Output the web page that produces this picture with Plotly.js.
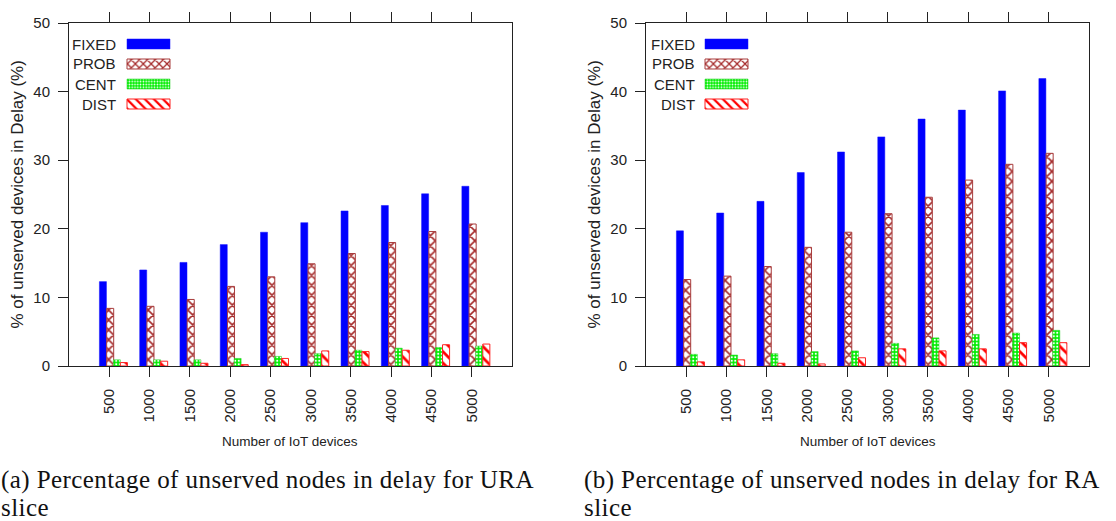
<!DOCTYPE html>
<html><head><meta charset="utf-8">
<script src="https://cdn.plot.ly/plotly-3.0.1.min.js"></script>
<style>
html,body{margin:0;padding:0;background:#fff;}
/* legend labels are drawn on the left of the samples (see annotations) */
text.legendtext, .infolayer g[class^="legend"] text{display:none;}
g.annotation[data-index="4"] text, g.annotation[data-index="5"] text,
g.annotation[data-index="6"] text, g.annotation[data-index="7"] text{letter-spacing:0.42px;}
</style>
</head><body>
<div id="chart" style="width:1116px;height:521px"></div>
<script>
// ---------- data ----------
const categories = ['500','1000','1500','2000','2500','3000','3500','4000','4500','5000'];
const seriesNames = ['FIXED','PROB','CENT','DIST'];

const fixedURA = [12.3, 14.0, 15.1, 17.7, 19.5, 20.9, 22.6, 23.4, 25.1, 26.2];
const probURA  = [8.4, 8.7, 9.7, 11.6, 13.0, 14.9, 16.4, 18.0, 19.6, 20.7];
const centURA  = [0.9, 0.9, 0.9, 1.1, 1.4, 1.8, 2.3, 2.6, 2.7, 2.9];
const distURA  = [0.5, 0.7, 0.4, 0.2, 1.1, 2.2, 2.1, 2.3, 3.1, 3.2];

const fixedRA = [19.7, 22.3, 24.0, 28.2, 31.2, 33.4, 36.0, 37.3, 40.1, 41.9];
const probRA  = [12.6, 13.1, 14.5, 17.3, 19.5, 22.2, 24.6, 27.1, 29.4, 31.0];
const centRA  = [1.7, 1.6, 1.8, 2.1, 2.2, 3.3, 4.1, 4.6, 4.8, 5.2];
const distRA  = [0.6, 0.9, 0.4, 0.3, 1.2, 2.5, 2.2, 2.5, 3.4, 3.4];

const yTickVals = [0, 10, 20, 30, 40, 50];
const xTitle = 'Number of IoT devices';
const yTitle = '% of unserved devices in Delay (%)';
const captionA = ['(a) Percentage of unserved nodes in delay for URA', 'slice'];
const captionB = ['(b) Percentage of unserved nodes in delay for RA', 'slice'];

// ---------- styling ----------
const W = 1116, H = 521;
const sans = 'Liberation Sans, Arial, Helvetica, sans-serif';
const serif = 'Liberation Serif, Times New Roman, serif';
const ink = '#222';
const barWidth = 0.175;
const barOffsets = [-0.245, -0.065, 0.1, 0.275];
const markerStyles = [
  {color:'#0000ff', line:{color:'#1010ff', width:0.5}},
  {color:'#ffffff', line:{color:'#a83c3c', width:1},
   pattern:{shape:'x', fgcolor:'#a52a2a', bgcolor:'#ffffff', size:7, solidity:0.4}},
  {color:'#00ee00', line:{color:'#22cc22', width:0.5},
   pattern:{shape:'.', fgcolor:'#ffffff', bgcolor:'#00ee00', size:3.5, solidity:0.3}},
  {color:'#ffffff', line:{color:'#ff2020', width:1},
   pattern:{shape:'\\', fgcolor:'#ff0000', bgcolor:'#ffffff', size:8, solidity:0.35}}
];

const panels = [
  {data:[fixedURA, probURA, centURA, distURA], xa:'x', ya:'y', legend:'legend'},
  {data:[fixedRA, probRA, centRA, distRA], xa:'x2', ya:'y2', legend:'legend2'}
];

const traces = [];
panels.forEach(p => {
  p.data.forEach((vals, s) => {
    traces.push({
      type:'bar', x:categories, y:vals, name:seriesNames[s],
      xaxis:p.xa, yaxis:p.ya, legend:p.legend,
      width:barWidth, offset:barOffsets[s],
      marker:markerStyles[s], hoverinfo:'skip'
    });
  });
});

// plot boxes in px
const boxL = {l:69, r:512}, boxR = {l:646, r:1089};
const plotTop = 23, plotBottom = 366;
const ydom = [1 - plotBottom/H, 1 - plotTop/H];

function xaxisDef(box, anchor){
  return {
    domain:[box.l/W, box.r/W], anchor:anchor, type:'category', range:[-1, 10],
    showline:true, linecolor:ink, linewidth:1, mirror:'ticks',
    ticks:'outside', ticklen:10, tickwidth:1, tickcolor:ink,
    tickangle:-90, ticklabelstandoff:6,
    tickfont:{family:sans, size:15, color:ink},
    showgrid:false, zeroline:false, fixedrange:true
  };
}
function yaxisDef(anchor){
  return {
    domain:ydom, anchor:anchor, range:[0, 50], tickvals:yTickVals,
    showline:true, linecolor:ink, linewidth:1, mirror:true,
    ticks:'outside', ticklen:10, tickwidth:1, tickcolor:ink,
    ticklabelstandoff:5,
    tickfont:{family:sans, size:15, color:ink},
    showgrid:false, zeroline:false, fixedrange:true
  };
}
function legendDef(xpx){
  return {x:xpx/W, y:1 - 33/H, xanchor:'left', yanchor:'top',
          bgcolor:'rgba(0,0,0,0)', borderwidth:0,
          font:{family:sans, size:15, color:ink}, tracegroupgap:0};
}

// legend layout: label on the left, long sample on the right
const legendSpecs = {
  legend:  {textRight:117, sampleL:127, sampleR:170, rows:[44, 64, 84, 104]},
  legend2: {textRight:696, sampleL:705, sampleR:748, rows:[44, 64, 84, 104]}
};

const midY = 1 - (plotTop + plotBottom) / 2 / H;
function capLine(text, xpx, cy){
  return {text:text, xref:'paper', yref:'paper', x:xpx/W, y:1 - cy/H, align:'left',
          showarrow:false, xanchor:'left', yanchor:'middle', borderpad:0,
          font:{family:serif, size:25, color:'#111'}};
}
const annotations = [
  {text:yTitle, xref:'paper', yref:'paper', x:17/W, y:midY, textangle:-90,
   showarrow:false, xanchor:'center', yanchor:'middle', font:{family:sans, size:17, color:ink}},
  {text:yTitle, xref:'paper', yref:'paper', x:(17+boxR.l-boxL.l)/W, y:midY, textangle:-90,
   showarrow:false, xanchor:'center', yanchor:'middle', font:{family:sans, size:17, color:ink}},
  {text:xTitle, xref:'paper', yref:'paper', x:(boxL.l+boxL.r)/2/W, y:1-441/H,
   showarrow:false, xanchor:'center', yanchor:'middle', font:{family:sans, size:13.5, color:ink}},
  {text:xTitle, xref:'paper', yref:'paper', x:(boxR.l+boxR.r)/2/W, y:1-441/H,
   showarrow:false, xanchor:'center', yanchor:'middle', font:{family:sans, size:13.5, color:ink}},
  capLine(captionA[0], 0, 479.5), capLine(captionA[1], 0, 507.2),
  capLine(captionB[0], 583, 479.5), capLine(captionB[1], 583, 507.2)
];
// legend labels, right-aligned to the left of each sample
Object.keys(legendSpecs).forEach(id => {
  const spec = legendSpecs[id];
  seriesNames.forEach((nm, i) => {
    annotations.push({text:nm, xref:'paper', yref:'paper', x:spec.textRight/W, y:1 - spec.rows[i]/H,
      showarrow:false, xanchor:'right', yanchor:'middle', borderpad:0,
      font:{family:sans, size:15, color:ink}});
  });
});

const layout = {
  width:W, height:H, margin:{l:0, r:0, t:0, b:0},
  paper_bgcolor:'#ffffff', plot_bgcolor:'#ffffff',
  barmode:'overlay', showlegend:true,
  xaxis:xaxisDef(boxL, 'y'), yaxis:yaxisDef('x'),
  xaxis2:xaxisDef(boxR, 'y2'), yaxis2:yaxisDef('x2'),
  legend:legendDef(72), legend2:legendDef(650),
  annotations:annotations
};

function arrangeLegends(gd){
  const svg = gd.querySelector('svg.main-svg');
  if(!svg) return;
  function toLocal(el, X, Y){
    const m = el.getScreenCTM().inverse();
    const p = svg.createSVGPoint(); p.x = X; p.y = Y;
    return p.matrixTransform(m);
  }
  gd.querySelectorAll('text.legendtext').forEach(t => { t.style.display = 'none'; });
  Object.keys(legendSpecs).forEach(id => {
    const spec = legendSpecs[id];
    gd.querySelectorAll('g.' + id).forEach(leg => {
      leg.querySelectorAll('text').forEach(t => { t.style.display = 'none'; });
      leg.querySelectorAll('[clip-path]').forEach(e => e.removeAttribute('clip-path'));
      leg.querySelectorAll('g.traces').forEach((g, i) => {
        const cy = spec.rows[i];
        const path = g.querySelector('.legendpoints path');
        if(path){
          path.removeAttribute('transform');
          const a = toLocal(path, spec.sampleL, cy - 5);
          const b = toLocal(path, spec.sampleR, cy + 5);
          path.setAttribute('d', 'M'+a.x+','+a.y+'H'+b.x+'V'+b.y+'H'+a.x+'Z');
        }
      });
    });
  });
}

const gd = document.getElementById('chart');
Plotly.newPlot(gd, traces, layout, {staticPlot:true, displayModeBar:false})
  .then(() => {
    arrangeLegends(gd);
    gd.on('plotly_afterplot', () => arrangeLegends(gd));
    requestAnimationFrame(() => arrangeLegends(gd));
    setTimeout(() => arrangeLegends(gd), 150);
    setTimeout(() => arrangeLegends(gd), 600);
  });
</script>
</body></html>
